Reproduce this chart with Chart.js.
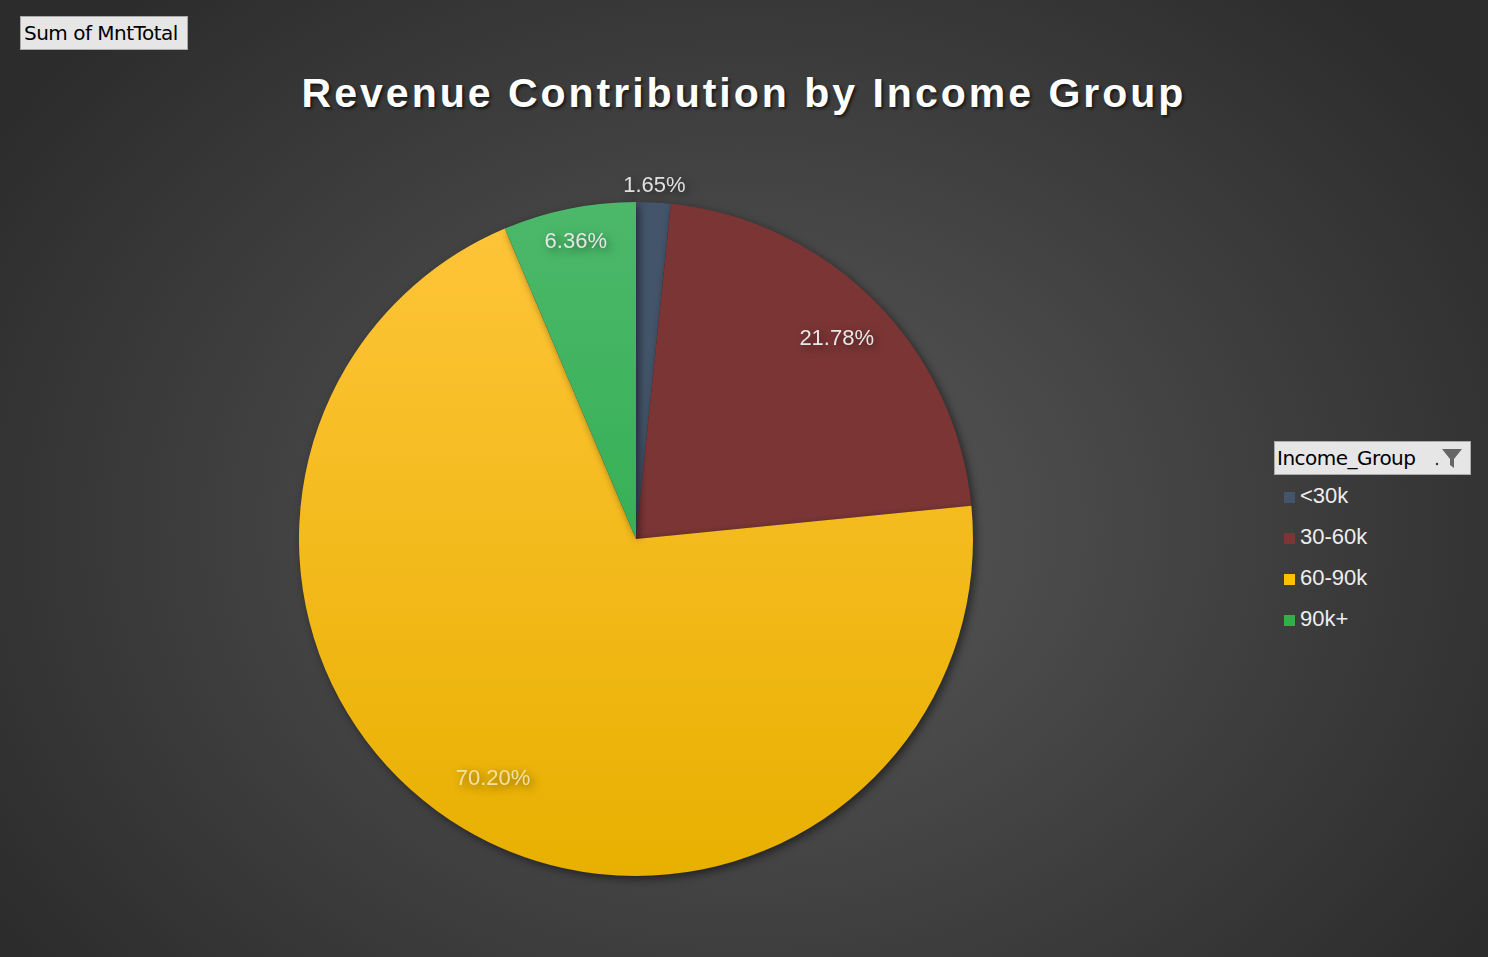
<!DOCTYPE html>
<html><head><meta charset="utf-8">
<script src="https://cdn.jsdelivr.net/npm/chart.js@4/dist/chart.umd.min.js"></script>
<style>
html,body{margin:0;padding:0;width:1488px;height:957px;overflow:hidden;font-family:"Liberation Sans",Arial,sans-serif;}
body{background:radial-gradient(ellipse 60% 75% at 50% 55%, #5a5a5a 0%, #3e3e3e 60%, #2c2c2c 100%);}
#btn{position:absolute;left:20px;top:16px;width:166px;height:32px;background:#e6e6e6;border:1px solid #aaa;font-size:20px;line-height:32px;text-indent:3px;color:#000;font-family:"DejaVu Sans",sans-serif;letter-spacing:-0.5px;}
#title{position:absolute;left:0;width:1488px;top:70px;text-align:center;font-size:41px;font-weight:bold;color:#fff;letter-spacing:3px;text-shadow:2px 2px 3px rgba(0,0,0,0.6);font-family:"Liberation Sans",Arial,sans-serif;}
#wrap{position:absolute;left:249px;top:152px;width:774px;height:774px;}
#lg{position:absolute;left:1274px;top:441px;}
#lgh{width:195px;height:32px;background:#e6e6e6;border:1px solid #aaa;font-size:20px;line-height:32px;text-indent:2px;color:#000;font-family:"DejaVu Sans",sans-serif;letter-spacing:-0.5px;position:relative;}
.it{color:#eee;font-size:22px;height:41px;line-height:41px;padding-left:10px;}
.it span{display:inline-block;width:11px;height:11px;margin-right:5px;}
</style></head><body>
<div id="btn">Sum of MntTotal</div>
<div id="title">Revenue Contribution by Income Group</div>
<div id="wrap"><canvas id="c"></canvas></div>
<div id="lg"><div id="lgh">Income_Group<svg style="position:absolute;right:6px;top:4px" width="34" height="24"><circle cx="7" cy="18" r="1.2" fill="#333"/><path d="M12 3 H32 L24 13 V22 L20 19 V13 Z" fill="#666"/></svg></div><div id="items"></div></div>
<script>
const categories=["<30k","30-60k","60-90k","90k+"];
const shares=[1.65,21.78,70.20,6.36];
const colors=["#44546a","#7b3535","#ffc000","#2fb04c"];
const labelColors=["#e0e0e0","#e6e6e6","#f3e1a0","#e6e6e6"];
const labelRadius=[1.05,0.84,0.83,0.9];
document.getElementById('items').innerHTML=categories.map((c,i)=>`<div class="it"><span style="background:${colors[i]}"></span>${c}</div>`).join('');
const labelPlugin={id:'lbl',afterDatasetsDraw(chart){
 const ctx=chart.ctx;const meta=chart.getDatasetMeta(0);
 ctx.save();ctx.font='22px "Liberation Sans",Arial,sans-serif';ctx.textAlign='center';ctx.textBaseline='middle';
 meta.data.forEach((a,i)=>{const m=(a.startAngle+a.endAngle)/2;const r=a.outerRadius*labelRadius[i];
  ctx.fillStyle=labelColors[i];ctx.fillText(shares[i].toFixed(2)+'%',a.x+Math.cos(m)*r,a.y+Math.sin(m)*r);});
 ctx.restore();}};
const ctx=document.getElementById('c').getContext('2d');
function grad(c1,c2){const g=ctx.createLinearGradient(0,50,0,724);g.addColorStop(0,c1);g.addColorStop(1,c2);return g;}
const fills=[colors[0],colors[1],grad('#ffc53a','#e8b000'),grad('#4cb86a','#22a844')];
new Chart(ctx,{type:'pie',data:{labels:categories,datasets:[{data:shares,backgroundColor:fills,borderWidth:0}]},
options:{responsive:true,maintainAspectRatio:false,animation:false,layout:{padding:50},
plugins:{legend:{display:false},tooltip:{enabled:false}}},plugins:[labelPlugin,{id:'sh',beforeDatasetsDraw(ch){ch.ctx.save();ch.ctx.shadowColor='rgba(0,0,0,0.5)';ch.ctx.shadowBlur=8;ch.ctx.shadowOffsetX=3;ch.ctx.shadowOffsetY=3;},afterDatasetsDraw(ch){ch.ctx.restore();}}]});
</script></body></html>
